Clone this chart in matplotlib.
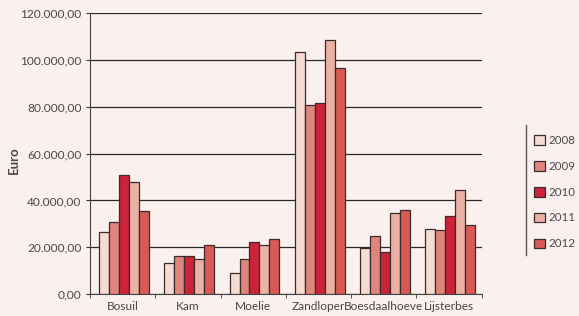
import numpy as np
import matplotlib.pyplot as plt
from matplotlib.lines import Line2D
from matplotlib.ticker import FuncFormatter

plt.rcParams['font.family'] = ['Lato', 'DejaVu Sans']

# data (euro)
locations = ["Bosuil", "Kam", "Moelie", "Zandloper", "Boesdaalhoeve", "Lijsterbes"]
years = ["2008", "2009", "2010", "2011", "2012"]
v2008 = [26600, 13400, 9100, 103300, 19700, 27900]
v2009 = [30600, 16400, 14800, 80700, 24800, 27200]
v2010 = [50900, 16400, 22200, 81500, 17800, 33300]
v2011 = [48000, 14800, 21100, 108600, 34800, 44300]
v2012 = [35300, 21100, 23400, 96500, 35800, 29400]
series = [v2008, v2009, v2010, v2011, v2012]
colors = ['#f5dbd2', '#e0857b', '#cc2339', '#ecb1a5', '#d95a55']

bg = '#faf0ee'
txt = '#4e4549'

fig = plt.figure(figsize=(5.79, 3.16), dpi=100)
fig.patch.set_facecolor(bg)
ax = fig.add_axes([0.1554, 0.0696, 0.6765, 0.888])
ax.set_facecolor(bg)

x = np.arange(len(locations))
w = 0.153
for i, (vals, c) in enumerate(zip(series, colors)):
    ax.bar(x + 0.02 + (i - 2) * w, vals, w, color=c, edgecolor='#3b2b2d',
           linewidth=0.9, label=years[i], zorder=3)

ax.set_xlim(-0.5, len(locations) - 0.5)
ax.set_ylim(0, 120000)
ax.set_yticks(np.arange(0, 120001, 20000))
ax.yaxis.set_major_formatter(FuncFormatter(
    lambda v, p: f"{v:,.2f}".replace(",", "X").replace(".", ",").replace("X", ".")))
ax.grid(axis='y', color='#2a2a2a', linewidth=0.9, zorder=0)

ax.set_xticks(x)
ax.set_xticklabels(locations)
ax.set_xticks(np.arange(-0.5, len(locations)), minor=True)
ax.tick_params(axis='x', which='major', length=0, pad=5, labelsize=8.6, colors=txt)
ax.tick_params(axis='x', which='minor', length=3, direction='out', color='#333333')
ax.tick_params(axis='y', length=3, color='#333333', labelsize=8.6, colors=txt, pad=3)

for s in ['top', 'right']:
    ax.spines[s].set_visible(False)
ax.spines['left'].set_color('#444444')
ax.spines['bottom'].set_color('#444444')

fig.text(14 / 579, 1 - 160 / 316, 'Euro', rotation=90, ha='center', va='center',
         fontsize=9.5, fontweight='bold', color=txt)

# legend with the vertical bar to its left
fig.add_artist(Line2D([525.7 / 579, 525.7 / 579], [1 - 125 / 316, 1 - 255 / 316],
                      color='#555555', linewidth=1))
fig.legend(loc='center left', bbox_to_anchor=(534 / 579, 1 - 192 / 316),
           frameon=False, fontsize=8.3, labelcolor=txt, handlelength=0.95,
           handleheight=0.95, handletextpad=0.3, labelspacing=1.3, borderpad=0,
           borderaxespad=0)

plt.savefig('out.png', dpi=100, facecolor=bg)
